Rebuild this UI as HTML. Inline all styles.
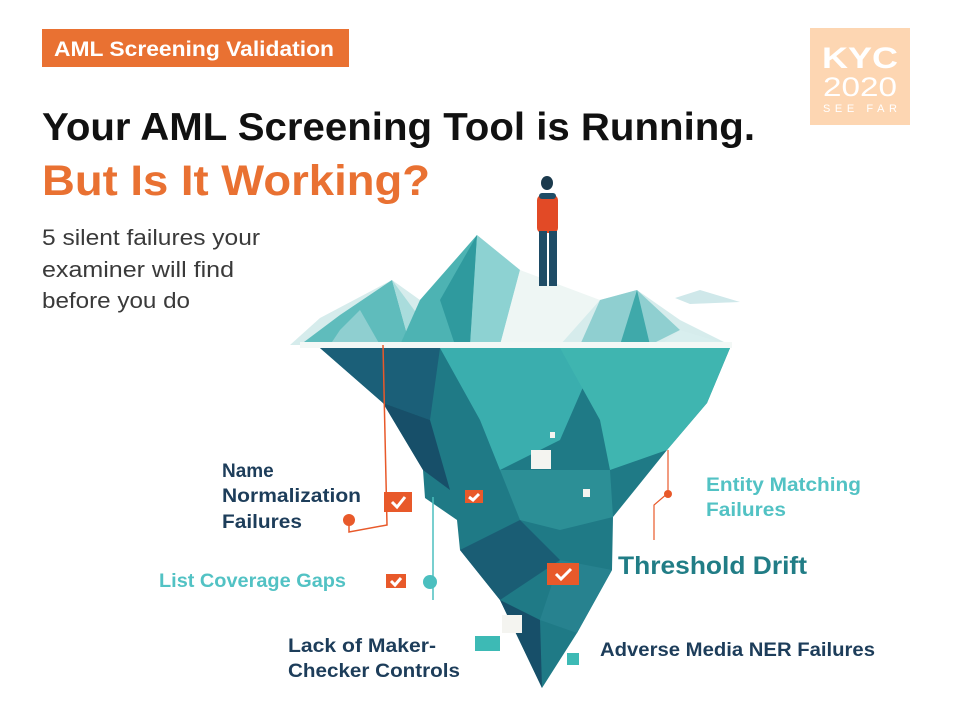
<!DOCTYPE html>
<html><head><meta charset="utf-8"><style>
html,body{margin:0;padding:0;background:#fff;}
svg{display:block;font-family:"Liberation Sans",sans-serif;}
</style></head><body>
<svg width="960" height="720" viewBox="0 0 960 720" xmlns="http://www.w3.org/2000/svg">
<rect width="960" height="720" fill="#fff"/>
<!-- badge -->
<rect x="42" y="29" width="307" height="38" fill="#e97132"/>
<text x="54" y="56" font-size="21" font-weight="bold" fill="#fff" textLength="280" lengthAdjust="spacingAndGlyphs">AML Screening Validation</text>
<!-- logo -->
<rect x="810" y="28" width="100" height="97" fill="#fdd6b2"/>
<text x="860" y="68" font-size="30" font-weight="bold" fill="#fff" text-anchor="middle" textLength="76" lengthAdjust="spacingAndGlyphs">KYC</text>
<text x="860" y="96" font-size="27" fill="#fff" text-anchor="middle" textLength="74" lengthAdjust="spacingAndGlyphs">2020</text>
<text x="860" y="112" font-size="11" fill="#fff" text-anchor="middle" textLength="74" lengthAdjust="spacing">SEE FAR</text>
<!-- titles -->
<text x="42" y="140" font-size="39" font-weight="bold" fill="#111" textLength="713" lengthAdjust="spacingAndGlyphs">Your AML Screening Tool is Running.</text>
<text x="42" y="195" font-size="43" font-weight="bold" fill="#e97132" textLength="388" lengthAdjust="spacingAndGlyphs">But Is It Working?</text>
<g font-size="22" fill="#3a3a3a">
<text x="42" y="245" textLength="218" lengthAdjust="spacingAndGlyphs">5 silent failures your</text>
<text x="42" y="277" textLength="192" lengthAdjust="spacingAndGlyphs">examiner will find</text>
<text x="42" y="308" textLength="148" lengthAdjust="spacingAndGlyphs">before you do</text>
</g>
<!-- iceberg top -->
<polygon points="290,345 320,318 392,280 420,300 477,235 520,270 560,290 600,300 637,290 680,320 730,345" fill="#d6ecec"/>
<polygon points="300,345 340,315 392,280 410,345" fill="#5fbcbc"/>
<polygon points="392,280 440,345 410,345" fill="#a9dcdc"/>
<polygon points="420,300 477,235 470,345 400,345" fill="#4db3b3"/>
<polygon points="477,235 520,270 500,345 470,345" fill="#8dd2d2"/>
<polygon points="477,235 440,300 455,345 470,345" fill="#2f9a9e"/>
<polygon points="520,270 600,300 560,345 500,345" fill="#eef6f4"/>
<polygon points="600,300 637,290 680,330 650,345 580,345" fill="#8fcfd0"/>
<polygon points="637,290 620,345 650,345" fill="#3fa9aa"/>
<polygon points="680,330 730,345 660,345" fill="#d8eeee"/>
<polygon points="340,330 360,310 380,345 330,345" fill="#8fcfd0"/>
<polygon points="675,298 700,290 740,302 690,304" fill="#cfe8ea"/>
<!-- surface line -->
<rect x="300" y="342" width="432" height="6" fill="#f3f8f6"/>
<!-- underwater -->
<polygon points="320,348 730,348 707,403 667,450 613,517 612,570 577,633 542,688 500,600 460,550 457,520 425,498 423,470 383,403" fill="#1f7a86"/>
<polygon points="440,348 600,348 560,440 500,470 480,420" fill="#3aaeae"/>
<polygon points="560,348 730,348 707,403 667,450 610,470 600,420" fill="#3fb5b0"/>
<polygon points="320,348 440,348 430,420 383,403" fill="#1b5f78"/>
<polygon points="383,403 430,420 450,490 423,470" fill="#174f69"/>
<polygon points="500,470 610,470 613,517 560,530 520,520" fill="#2c8f96"/>
<polygon points="460,550 520,520 560,560 500,600" fill="#1a5d74"/>
<polygon points="560,560 612,570 577,633 540,620" fill="#27828f"/>
<polygon points="500,600 540,620 542,688" fill="#174f69"/>
<!-- person -->
<ellipse cx="547" cy="183" rx="6" ry="7" fill="#1b3a4d"/>
<rect x="537" y="195" width="21" height="38" rx="5" fill="#e24a26"/>
<rect x="539" y="193" width="17" height="6" rx="3" fill="#1e4c66"/>
<rect x="539" y="231" width="8" height="55" fill="#1e4c66"/>
<rect x="549" y="231" width="8" height="55" fill="#1e4c66"/>
<!-- markers -->
<rect x="384" y="492" width="28" height="20" fill="#e8592a"/>
<rect x="465" y="490" width="18" height="13" fill="#e8592a"/>
<rect x="386" y="574" width="20" height="14" fill="#e8592a"/>
<rect x="547" y="563" width="32" height="22" fill="#e8592a"/>
<g stroke="#fff" stroke-width="3" fill="none">
<polyline points="392,502 397,507 405,497"/><polyline points="469,497 473,500 479,494"/>
<polyline points="391,581 395,585 401,578"/><polyline points="556,574 561,579 571,569"/>
</g>
<rect x="531" y="450" width="20" height="19" fill="#f4f4f0"/>
<rect x="502" y="615" width="20" height="18" fill="#f4f4f0"/>
<rect x="583" y="489" width="7" height="8" fill="#f4f4f0"/>
<rect x="550" y="432" width="5" height="6" fill="#f4f4f0"/>
<rect x="475" y="636" width="25" height="15" fill="#3dbab5"/>
<rect x="567" y="653" width="12" height="12" fill="#3dbab5"/>
<!-- connectors -->
<polyline points="383,345 387,525 349,532 349,520" fill="none" stroke="#e8592a" stroke-width="1.5"/>
<circle cx="349" cy="520" r="6" fill="#e8592a"/>
<line x1="433" y1="497" x2="433" y2="600" stroke="#4bbfbf" stroke-width="1.5"/>
<circle cx="430" cy="582" r="7" fill="#4bbfbf"/>
<polyline points="668,493 654,505 654,540" fill="none" stroke="#e8592a" stroke-width="1.2"/>
<line x1="668" y1="450" x2="668" y2="493" stroke="#e8592a" stroke-width="1.2"/>
<circle cx="668" cy="494" r="4" fill="#e8592a"/>
<!-- labels -->
<g font-size="19" font-weight="bold" fill="#1d3d5a">
<text x="222" y="477">Name</text>
<text x="222" y="502" textLength="139" lengthAdjust="spacingAndGlyphs">Normalization</text>
<text x="222" y="528" textLength="80" lengthAdjust="spacingAndGlyphs">Failures</text>
<text x="288" y="652" textLength="148" lengthAdjust="spacingAndGlyphs">Lack of Maker-</text>
<text x="288" y="677" textLength="172" lengthAdjust="spacingAndGlyphs">Checker Controls</text>
<text x="600" y="656" textLength="275" lengthAdjust="spacingAndGlyphs">Adverse Media NER Failures</text>
</g>
<g font-size="19" font-weight="bold" fill="#52c2c4">
<text x="706" y="491" textLength="155" lengthAdjust="spacingAndGlyphs">Entity Matching</text>
<text x="706" y="516" textLength="80" lengthAdjust="spacingAndGlyphs">Failures</text>
<text x="159" y="587" textLength="187" lengthAdjust="spacingAndGlyphs">List Coverage Gaps</text>
</g>
<text x="618" y="574" font-size="25" font-weight="bold" fill="#217d86" textLength="189" lengthAdjust="spacingAndGlyphs">Threshold Drift</text>
</svg>
</body></html>
